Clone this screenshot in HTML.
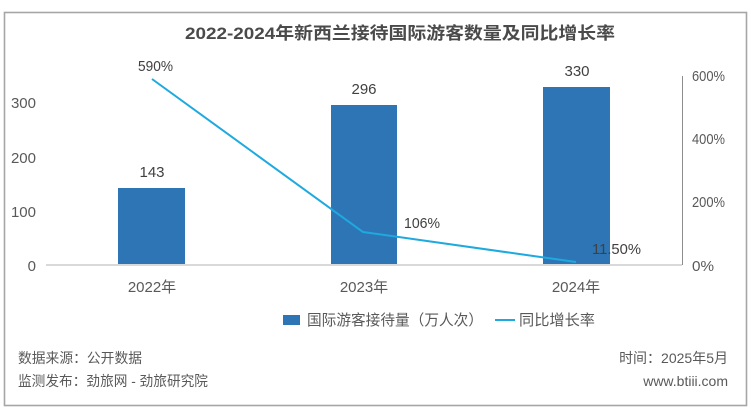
<!DOCTYPE html>
<html><head><meta charset="utf-8"><style>
html,body{margin:0;padding:0;background:#fff;width:751px;height:415px;overflow:hidden}
svg{display:block}
text{font-family:"Liberation Sans","Noto Sans CJK SC",sans-serif}
</style></head><body>
<svg width="751" height="415" viewBox="0 0 751 415" xmlns="http://www.w3.org/2000/svg">
<rect x="0" y="0" width="751" height="415" fill="#fff"/>
<rect x="4.5" y="12.5" width="742" height="393" fill="#fff" stroke="#a6a6a6" stroke-width="1.6"/>
<text x="400" y="39" text-anchor="middle" font-size="17" font-weight="bold" fill="#4a4a4a" textLength="430" lengthAdjust="spacingAndGlyphs">2022-2024年新西兰接待国际游客数量及同比增长率</text>

<!-- left axis labels -->
<g font-size="15" fill="#595959" text-anchor="end">
<text x="36" y="108">300</text>
<text x="36" y="163">200</text>
<text x="36" y="217">100</text>
<text x="36" y="271">0</text>
</g>
<!-- right axis labels -->
<g font-size="15" fill="#595959">
<text x="692" y="81" textLength="33" lengthAdjust="spacingAndGlyphs">600%</text>
<text x="692" y="144" textLength="33" lengthAdjust="spacingAndGlyphs">400%</text>
<text x="692" y="207" textLength="33" lengthAdjust="spacingAndGlyphs">200%</text>
<text x="692" y="271" textLength="22" lengthAdjust="spacingAndGlyphs">0%</text>
</g>

<!-- bars -->
<g fill="#2e75b6">
<rect x="118" y="188" width="67" height="77"/>
<rect x="331" y="105" width="66" height="160"/>
<rect x="543" y="87" width="67" height="178"/>
</g>
<!-- axes -->
<line x1="46" y1="265" x2="682" y2="265" stroke="#d9d9d9" stroke-width="2"/>
<line x1="682.5" y1="76" x2="682.5" y2="265" stroke="#8c8c8c" stroke-width="1"/>

<!-- line -->
<polyline points="152,79 363,232 576,262" fill="none" stroke="#1ea9df" stroke-width="2"/>

<!-- data labels -->
<g font-size="15" fill="#404040">
<text x="152" y="177" text-anchor="middle">143</text>
<text x="364" y="94" text-anchor="middle">296</text>
<text x="577" y="76" text-anchor="middle">330</text>
<text x="138" y="71" textLength="35" lengthAdjust="spacingAndGlyphs">590%</text>
<text x="404" y="228" textLength="36" lengthAdjust="spacingAndGlyphs">106%</text>
<text x="592" y="254" textLength="49" lengthAdjust="spacingAndGlyphs">11.50%</text>
</g>

<!-- x labels -->
<g font-size="15" fill="#595959" text-anchor="middle">
<text x="152" y="292">2022年</text>
<text x="364" y="292">2023年</text>
<text x="576" y="292">2024年</text>
</g>

<!-- legend -->
<rect x="283" y="315" width="17" height="10" fill="#2e75b6"/>
<text x="307" y="325" font-size="15" fill="#595959" textLength="176" lengthAdjust="spacingAndGlyphs">国际游客接待量（万人次）</text>
<line x1="495" y1="320" x2="515" y2="320" stroke="#1ea9df" stroke-width="2"/>
<text x="519" y="325" font-size="15" fill="#595959" textLength="76" lengthAdjust="spacingAndGlyphs">同比增长率</text>

<!-- footer -->
<g font-size="14" fill="#595959">
<text x="18" y="363" textLength="124" lengthAdjust="spacingAndGlyphs">数据来源：公开数据</text>
<text x="18" y="386" textLength="190" lengthAdjust="spacingAndGlyphs">监测发布：劲旅网 - 劲旅研究院</text>
<text x="728" y="363" text-anchor="end">时间：2025年5月</text>
<text x="728" y="386" text-anchor="end">www.btiii.com</text>
</g>
</svg>
</body></html>
